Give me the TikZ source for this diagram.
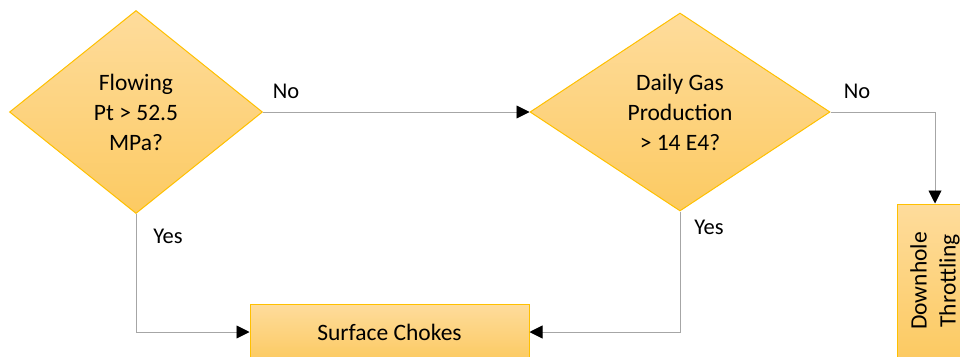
\documentclass[tikz,border=0pt]{standalone}
\usepackage{fontspec}
\setmainfont{Carlito}
\usetikzlibrary{shapes.geometric,arrows.meta}
\definecolor{fillTop}{HTML}{FEDC9C}
\definecolor{fillBot}{HTML}{FCCA62}
\definecolor{edge}{HTML}{FFC000}
\definecolor{wire}{HTML}{A6A6A6}
\begin{document}
\begin{tikzpicture}[x=1pt,y=-1pt,
  decision/.style={diamond,draw=edge,line width=1pt,top color=fillTop,bottom color=fillBot,
    align=center,inner sep=0pt,font=\fontsize{23.5}{30}\selectfont},
  procbox/.style={rectangle,draw=edge,line width=1pt,top color=fillTop,bottom color=fillBot,
    align=center,inner sep=0pt,font=\fontsize{23.5}{30}\selectfont},
  wireline/.style={draw=wire,line width=0.9pt,-{Triangle[length=13pt,width=13pt,color=black]}},
  lbl/.style={font=\fontsize{22.5}{26}\selectfont,inner sep=0pt}]
\useasboundingbox (0,0) rectangle (960,356);
\clip (0,0) rectangle (960,356);
\node[decision,minimum width=253pt,minimum height=203pt] (d1) at (136,112) {Flowing\\Pt > 52.5\\MPa?};
\node[decision,minimum width=300pt,minimum height=198pt] (d2) at (680,112) {Daily Gas\\Production\\> 14 E4?};
\node[procbox,minimum width=279pt,minimum height=56pt] (sc) at (389.5,332) {Surface Chokes};
\node[procbox,minimum width=76pt,minimum height=154pt] (dh) at (935,281) {};
\node[rotate=90,align=center,font=\fontsize{23.5}{29}\selectfont] (dht) at (dh.center) {Downhole\\Throttling};
\draw[wireline] (d1.east) -- (d2.west);
\draw[wireline] (d2.east) -| (dh.north);
\draw[wireline] (d1.south) |- (sc.west);
\draw[wireline] (d2.south) |- (sc.east);
\node[lbl] (no1) at (286,91) {No};
\node[lbl] (no2) at (857,91) {No};
\node[lbl] (yes1) at (168,236) {Yes};
\node[lbl] (yes2) at (709,227) {Yes};
\end{tikzpicture}
\end{document}
